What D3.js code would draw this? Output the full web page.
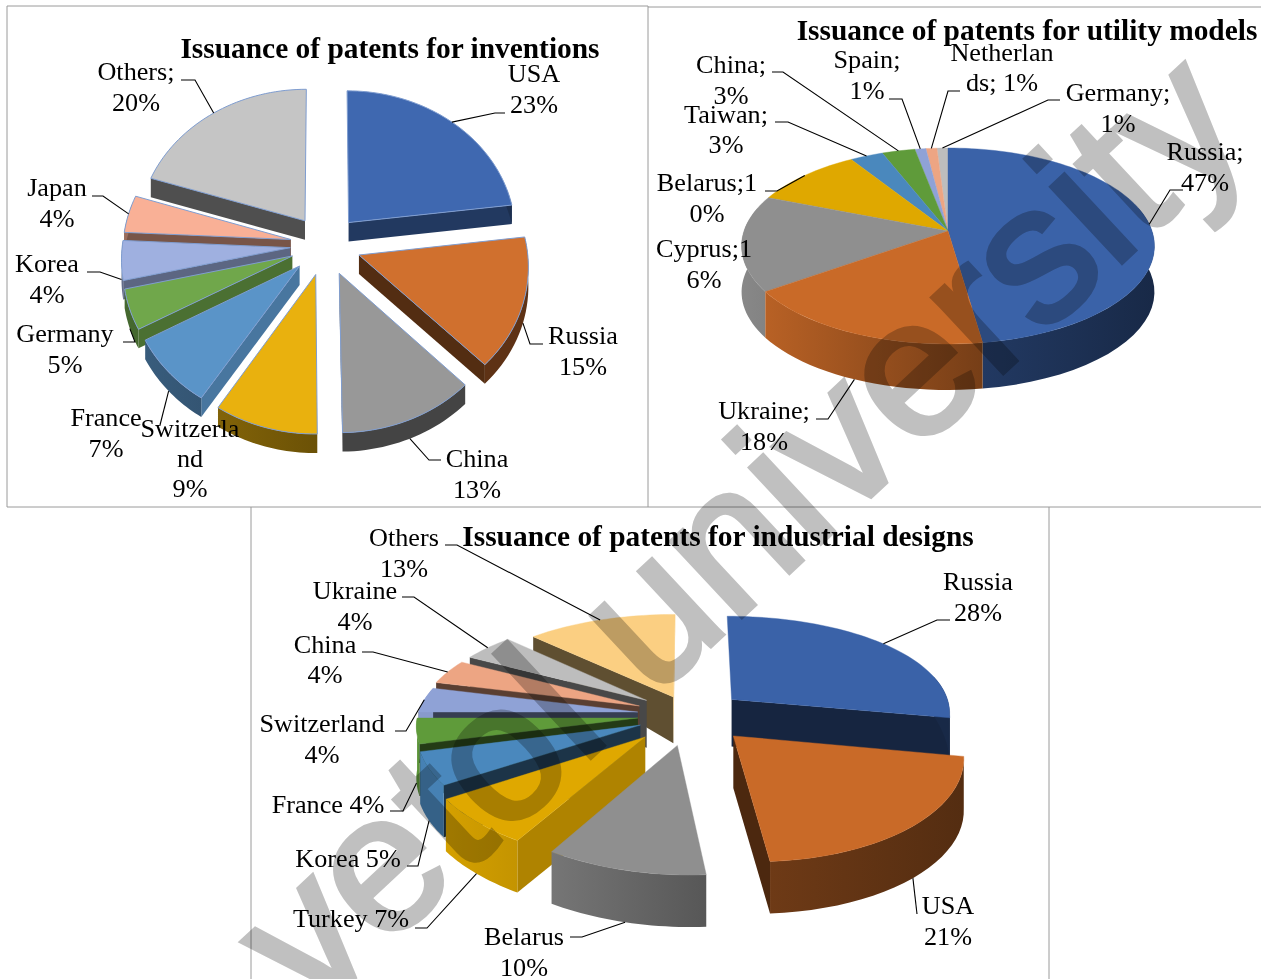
<!DOCTYPE html>
<html><head><meta charset="utf-8">
<script src="https://cdn.jsdelivr.net/npm/d3@7"></script>
<style>html,body{margin:0;padding:0;background:#fff}svg{display:block}
text{font-family:"Liberation Serif",serif;fill:#000}</style></head>
<body><svg id="c" width="1261" height="979"></svg>
<script>
// ---- data ----
const inventionCategories=["USA","Russia","China","Switzerland","France","Germany","Korea","Japan","Others"];
const inventionValues=[23,14.7,12.1,9.2,7.9,4.5,4.4,4.2,20];
const utilityCategories=["Russia","Ukraine","Cyprus","Belarus","Taiwan","China","Spain","Netherlands","Germany"];
const utilityValues=[47.7,17.5,15.8,10,3,3,1,1,1];
const designCategories=["Russia","USA","Belarus","Turkey","Korea","France","Switzerland","China","Ukraine","Others"];
const designValues=[28,21,10,7,5,4,4,4,4.4,12.6];

const inventionLabels=[["USA","23%"],["Russia","15%"],["China","13%"],["Switzerla","nd","9%"],["France","7%"],["Germany","5%"],["Korea","4%"],["Japan","4%"],["Others;","20%"]];
const utilityLabels=[["Russia;","47%"],["Ukraine;","18%"],["Cyprus;1","6%"],["Belarus;1","0%"],["Taiwan;","3%"],["China;","3%"],["Spain;","1%"],["Netherlan","ds; 1%"],["Germany;","1%"]];
const designLabels=[["Russia","28%"],["USA","21%"],["Belarus","10%"],["Turkey 7%"],["Korea 5%"],["France 4%"],["Switzerland","4%"],["China","4%"],["Ukraine","4%"],["Others","13%"]];

// ---- layout (not data) ----
const palette1=["#3f68b0","#d0702e","#989898","#e9b10e","#5a94c8","#70a74b","#9fb0e0","#f9b096","#c5c5c5"];
const palette2=["#3a62a8","#c96a28","#8f8f8f","#dfa800","#4a88bd","#5f9b3a","#8fa2d6","#eda583","#bdbdbd"];
const palette3=["#3a62a8","#c96a28","#8f8f8f","#dfa800","#4a88bd","#5f9b3a","#8fa2d6","#eda583","#bdbdbd","#fbcf82"];

const charts=[
 {title:"Issuance of patents for inventions",tx:390,ty:58,cats:inventionCategories,vals:inventionValues,labels:inventionLabels,colors:palette1,
  cx:325.5,cy:245,rx:168,ry:144,k:.07,kx:.07,skew:0,depth:19,dk:0,explode:inventionValues.map(()=>.21),
  base:.5,slope:.35,lo:.4,wall:[.62,.45,.45],stroke:"#7f9dd0",
  // each label: x centre, first baseline, line step, leader start & elbow
  lay:[[534,82,31,505,113,495,113],[583,344,31,543,344,530,344],[477,467,31,441,460,429,460],[190,437,30],[106,426,31,160,425,160,425],
       [65,342,31,123,342,135,342],[47,272,31,87,272,100,272],[57,196,31,92,196,103,196],[136,80,31,181,80,195,80]]},
 {title:"Issuance of patents for utility models",tx:1027,ty:40,cats:utilityCategories,vals:utilityValues,labels:utilityLabels,colors:palette2,
  cx:948,cy:231,rx:204,ry:95.7,k:.153,kx:.153,skew:0,depth:46,dk:0,explode:utilityValues.map(()=>0),
  base:.42,slope:0,lo:.4,wall:[.95,.62,.42],stroke:null,
  lay:[[1205,160,31,1183,190,1170,190],[764,419,31,816,419,828,419],[704,257,31],[707,191,31,765,191,777,191],[726,123,30,775,122,788,122],
       [731,73,31,772,72,783,72],[867,68,31,889,99,902,99],[1002,61,30,960,91,948,91],[1118,101,31,1060,100,1048,100]]},
 {title:"Issuance of patents for industrial designs",tx:718,ty:546,cats:designCategories,vals:designValues,labels:designLabels,colors:palette3,
  cx:690,cy:715,rx:220,ry:100,k:.15,kx:.12,skew:15,depth:52,dk:.6,explode:[.25,.27,.3,.3,.25,.24,.24,.25,.25,.2],
  base:-.315,slope:1.3,lo:.38,wall:[.95,.62,.42],stroke:null,
  lay:[[978,590,31,950,620,937,620],[948,914,31,917,914,917,914],[524,945,31,570,937,582,937],[351,927,31,415,928,427,928],[348,867,31,407,866,418,866],
       [328,813,31,390,811,403,811],[322,732,31,395,731,406,731],[325,653,30,362,652,373,652],[355,599,31,402,597,414,597],[404,546,31,445,545,457,545]]}
];

const svg=d3.select("#c"),defs=svg.append("defs");
// frames
const frames=[[7,6,648,6],[7,6,7,507],[7,507,1261,507],[648,6,648,507],[648,7,1261,7],[251,507,251,979],[1049,507,1049,979]];
svg.selectAll("line.f").data(frames).join("line").attr("class","f")
  .attr("x1",d=>d[0]).attr("y1",d=>d[1]).attr("x2",d=>d[2]).attr("y2",d=>d[3]).attr("stroke","#9a9a9a").attr("stroke-width",1);

const line=d3.line();
let gid=0;
function mul(col,f){const c=d3.rgb(col);return d3.rgb(c.r*f,c.g*f,c.b*f).formatHex();}

charts.forEach(ch=>{
  const g=svg.append("g");
  const data=ch.vals.map((v,i)=>({v,i}));
  const arcs=d3.pie().sort(null).value(d=>d.v)(data);
  const proj=(px,py)=>[ch.cx+ch.rx*px/(1-ch.kx*py)+ch.skew*Math.max(0,py),ch.cy+ch.ry*py/(1-ch.k*py)];
  const wallX=d3.scaleLinear().domain([ch.cx-ch.rx,ch.cx,ch.cx+ch.rx]).range(ch.wall).clamp(true);
  const dAt=py=>ch.depth*Math.min(1,1+ch.dk*py);
  const items=arcs.map(a=>{
    const mid=(a.startAngle+a.endAngle)/2,e=ch.explode[a.index];
    const ox=e*Math.sin(mid),oy=-e*Math.cos(mid);
    const plane=(t,r=1)=>[ox+r*Math.sin(t),oy-r*Math.cos(t)];
    const top=(t,r=1)=>{const p=plane(t,r);return proj(p[0],p[1]);};
    const bot=(t,r=1)=>{const p=plane(t,r),q=proj(p[0],p[1]);return [q[0],q[1]+dAt(p[1])];};
    return {a,mid,top,bot,i:a.index};
  });
  items.slice().sort((p,q)=>Math.cos(q.mid)-Math.cos(p.mid)).forEach(s=>{
    const a0=s.a.startAngle,a1=s.a.endAngle,col=ch.colors[s.i];
    const shade=nx=>Math.max(ch.lo,ch.base+ch.slope*nx);
    // radial walls facing the viewer
    if(Math.sin(a0)<0 && ch.explode[s.i]>0)
      g.append("path").attr("d",line([s.top(a0,0),s.top(a0),s.bot(a0),s.bot(a0,0)])+"Z").attr("fill",mul(col,shade(-Math.cos(a0))));
    if(Math.sin(a1)>0 && ch.explode[s.i]>0)
      g.append("path").attr("d",line([s.top(a1,0),s.top(a1),s.bot(a1),s.bot(a1,0)])+"Z").attr("fill",mul(col,shade(Math.cos(a1))));
    // outer wall
    const lo=Math.max(a0,Math.PI*.42),hi=Math.min(a1,Math.PI*1.58);
    if(hi>lo){
      const ts=d3.range(0,25).map(j=>lo+(hi-lo)*j/24);
      const pts=ts.map(t=>s.top(t)).concat(ts.slice().reverse().map(t=>s.bot(t)));
      const xs=d3.extent(pts,p=>p[0]),id="w"+(gid++);
      const gr=defs.append("linearGradient").attr("id",id).attr("gradientUnits","userSpaceOnUse")
        .attr("x1",xs[0]).attr("x2",xs[1]).attr("y1",0).attr("y2",0);
      gr.append("stop").attr("offset",0).attr("stop-color",mul(col,wallX(xs[0])));
      gr.append("stop").attr("offset",1).attr("stop-color",mul(col,wallX(xs[1])));
      g.append("path").attr("d",line(pts)+"Z").attr("fill",`url(#${id})`);
    }
    // top face
    const n=Math.max(6,Math.ceil((a1-a0)*30));
    const pts=[s.top(a0,0)].concat(d3.range(0,n+1).map(j=>s.top(a0+(a1-a0)*j/n)));
    g.append("path").attr("d",line(pts)+"Z").attr("fill",col)
      .attr("stroke",ch.stroke||col).attr("stroke-width",ch.stroke?1:.4).attr("stroke-linejoin","round");
  });
  // title
  g.append("text").attr("x",ch.tx).attr("y",ch.ty).attr("text-anchor","middle")
    .attr("font-size",29.4).attr("font-weight","bold").text(ch.title);
  // labels + leaders
  items.forEach(s=>{
    const L=ch.lay[s.i];
    ch.labels[s.i].forEach((t,j)=>{
      g.append("text").attr("x",L[0]).attr("y",L[1]+j*L[2]).attr("text-anchor","middle").attr("font-size",26.2).text(t);
    });
    if(L.length>3){
      const front=Math.cos(s.mid)<0;
      const anchor=front?s.bot(s.mid):s.top(s.mid);
      g.append("path").attr("d",line([[L[3],L[4]],[L[5],L[6]],anchor])).attr("fill","none").attr("stroke","#000").attr("stroke-width",1.1);
    }
  });
});

// watermark
svg.append("text").attr("transform","translate(1255,138) rotate(-43)").attr("text-anchor","end")
  .attr("font-size",195).style("font-family","'Liberation Sans',sans-serif").style("fill","#c0c0c0").style("stroke","#c0c0c0").style("stroke-width",5).style("mix-blend-mode","multiply")
  .text("vetol university");
</script></body></html>
